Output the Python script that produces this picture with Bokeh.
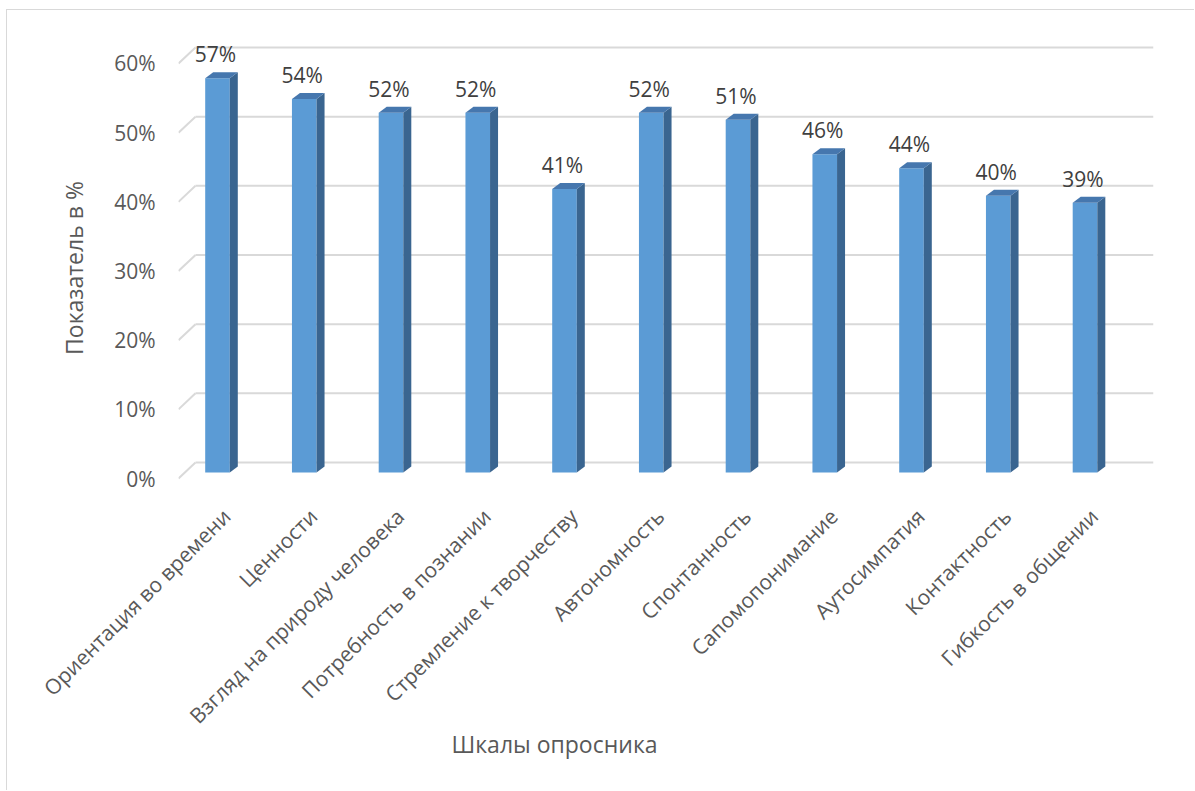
import math
from bokeh.plotting import figure
from bokeh.models import Range1d, LinearAxis, FixedTicker, PrintfTickFormatter, Title
from bokeh.embed import file_html
from bokeh.resources import INLINE
from bokeh.core.properties import value

categories = [
    "Ориентация во времени",
    "Ценности",
    "Взгляд на природу человека",
    "Потребность в познании",
    "Стремление к творчеству",
    "Автономность",
    "Спонтанность",
    "Сапомопонимание",
    "Аутосимпатия",
    "Контактность",
    "Гибкость в общении",
]
values = [57, 54, 52, 52, 41, 52, 51, 46, 44, 40, 39]
y_ticks = [0, 10, 20, 30, 40, 50, 60]
y_title = "Показатель в %"
x_title = "Шкалы опросника"

FONT = "Open Sans"
W, H = 1188, 781
B_LEFT, B_TOP = 171, 25
B_RIGHT = W - 1146
B_BOTTOM = H - 490
fw = W - B_LEFT - B_RIGHT
fh = H - B_TOP - B_BOTTOM
kx = 86.75          # px per category
ky = 6.917          # px per percent
x0 = -39 / kx
x1 = x0 + fw / kx
y0 = -22 / ky
y1 = y0 + fh / ky

p = figure(width=W, height=H, output_backend="svg", toolbar_location=None,
           x_range=Range1d(x0, x1), y_range=Range1d(y0, y1),
           x_axis_location=None, min_border_left=B_LEFT, min_border_right=B_RIGHT,
           min_border_top=B_TOP, min_border_bottom=B_BOTTOM,
           margin=(10, 0, 0, 7))
p.styles = {"box-shadow": "-1px -1px 0px 0px #D9D9D9"}
p.outline_line_color = None
p.xgrid.grid_line_color = None
p.ygrid.grid_line_color = None
p.background_fill_color = "white"
p.border_fill_color = "white"

# back wall grid + left slant lines
wall_dx = 17 / kx
wall_dy = 16 / ky
for t in y_ticks:
    p.segment(x0=[x0], y0=[t], x1=[x0 + wall_dx], y1=[t + wall_dy],
              line_color="#D9D9D9", line_width=2)
    p.segment(x0=[x0 + wall_dx], y0=[t + wall_dy], x1=[x1], y1=[t + wall_dy],
              line_color="#D9D9D9", line_width=2)

# bars (pseudo-3D)
hw = 12.3 / kx
fdy = 6 / ky
sdx = 8 / kx
sdy = 6 / ky
xs_idx = list(range(len(categories)))
p.quad(left=[i - hw for i in xs_idx], right=[i + hw for i in xs_idx],
       bottom=[fdy] * len(values), top=[v + fdy for v in values],
       fill_color="#5B9BD5", line_color=None)
p.patches(xs=[[i + hw, i + hw + sdx, i + hw + sdx, i + hw] for i in xs_idx],
          ys=[[fdy, fdy + sdy, v + fdy + sdy, v + fdy] for v in values],
          fill_color="#3A6590", line_color=None)
p.patches(xs=[[i - hw, i + hw, i + hw + sdx, i - hw + sdx] for i in xs_idx],
          ys=[[v + fdy, v + fdy, v + fdy + sdy, v + fdy + sdy] for v in values],
          fill_color="#4677AE", line_color=None)

p.text(x=[i - 2 / kx for i in xs_idx], y=[v + fdy for v in values],
       text=[f"{v}%" for v in values], y_offset=-24,
       text_align="center", text_baseline="middle",
       text_font=value(FONT), text_font_size="21px", text_color="#404040")

# y axis
ya = p.yaxis[0]
ya.ticker = FixedTicker(ticks=y_ticks)
ya.formatter = PrintfTickFormatter(format="%d%%")
ya.axis_line_color = None
ya.major_tick_line_color = None
ya.minor_tick_line_color = None
ya.major_label_standoff = 17
ya.major_label_text_font = FONT
ya.major_label_text_font_size = "21px"
ya.major_label_text_color = "#595959"
ya.axis_label = y_title
ya.axis_label_standoff = 21
ya.axis_label_text_font = FONT
ya.axis_label_text_font_size = "23px"
ya.axis_label_text_font_style = "normal"
ya.axis_label_text_color = "#595959"

# x axis (category labels)
shift = 9 / kx
p.extra_x_ranges["lab"] = Range1d(x0 - shift, x1 - shift)
xa = LinearAxis(x_range_name="lab", ticker=FixedTicker(ticks=xs_idx),
                major_label_overrides={i: c for i, c in zip(xs_idx, categories)},
                major_label_orientation=math.pi / 4, major_label_standoff=6,
                axis_line_color=None, major_tick_line_color=None,
                minor_tick_line_color=None,
                major_label_text_font=FONT, major_label_text_font_size="21px",
                major_label_text_color="#595959")
p.add_layout(xa, "below")

t = Title(text=x_title, align="left", offset=273, text_font=FONT,
          text_font_size="23px", text_font_style="normal", text_color="#595959",
          standoff=-35)
p.add_layout(t, "below")

open("out.html", "w").write(file_html(p, INLINE))
